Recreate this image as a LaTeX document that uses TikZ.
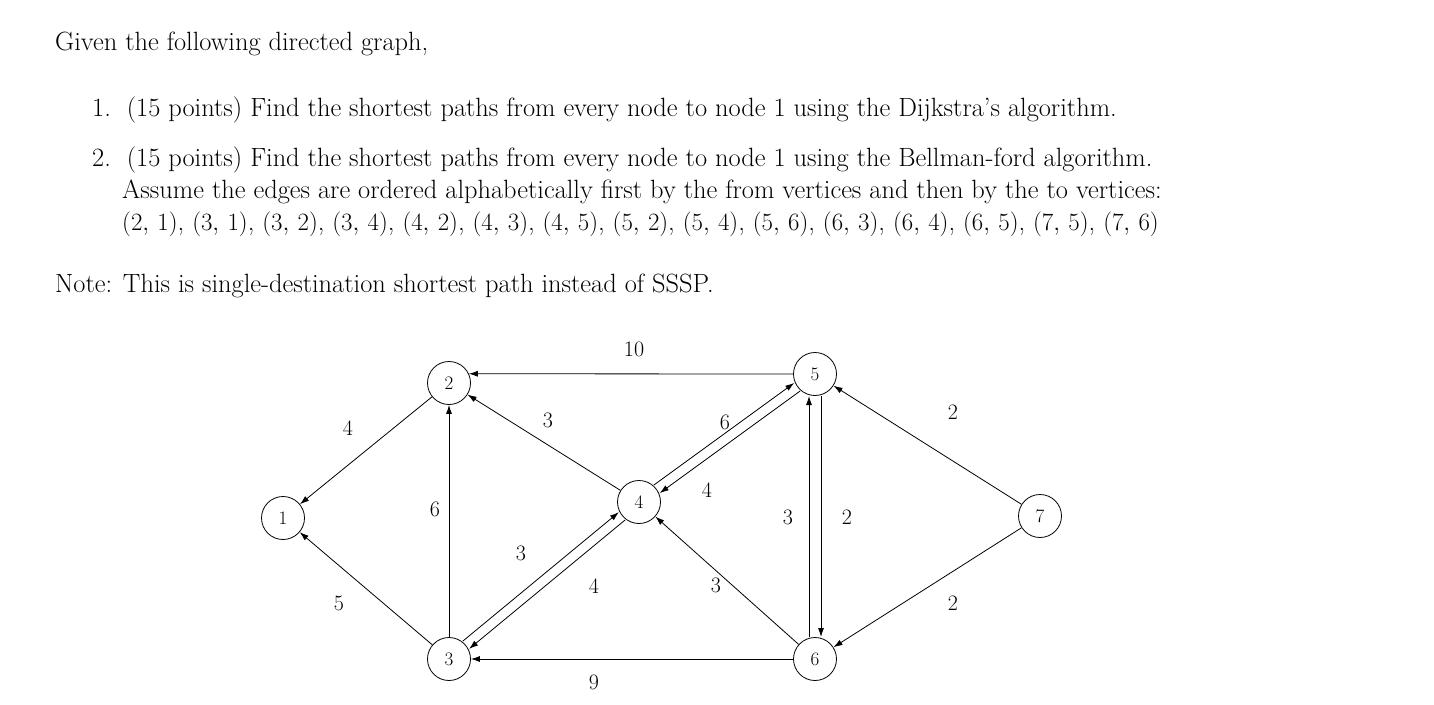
\documentclass[tikz,border=0pt]{standalone}
\usetikzlibrary{arrows.meta,calc}
\begin{document}
\begin{tikzpicture}[x=1pt,y=-1pt,
  vtx/.style={circle,draw,line width=0.8pt,minimum size=43pt,inner sep=0pt,font=\fontsize{19}{19}\selectfont},
  edge/.style={line width=0.8pt,-{Latex[length=9pt,width=6pt]}},
  wt/.style={font=\fontsize{22}{22}\selectfont},
  txt/.style={anchor=base west,inner sep=0pt,font=\fontsize{26.4}{30}\selectfont}]
\useasboundingbox (0,0) rectangle (1434,704);
\node[txt] (t0) at (55,50) {Given the following directed graph,};
\node[txt] (t1) at (92,116) {1.\ \ (15 points) Find the shortest paths from every node to node 1 using the Dijkstra's algorithm.};
\node[txt] (t2) at (92,166) {2.\ \ (15 points) Find the shortest paths from every node to node 1 using the Bellman-ford algorithm.};
\node[txt] (t3) at (122,198) {Assume the edges are ordered alphabetically first by the from vertices and then by the to vertices:};
\node[txt] (t4) at (122,230) {$(2,\,1)$, $(3,\,1)$, $(3,\,2)$, $(3,\,4)$, $(4,\,2)$, $(4,\,3)$, $(4,\,5)$, $(5,\,2)$, $(5,\,4)$, $(5,\,6)$, $(6,\,3)$, $(6,\,4)$, $(6,\,5)$, $(7,\,5)$, $(7,\,6)$};
\node[txt] (t5) at (55,292) {Note: This is single-destination shortest path instead of SSSP.};

\node[vtx] (1) at (283,518) {1};
\node[vtx] (2) at (449,383) {2};
\node[vtx] (3) at (449,659) {3};
\node[vtx] (4) at (639,502) {4};
\node[vtx] (5) at (815,374) {5};
\node[vtx] (6) at (815,659) {6};
\node[vtx] (7) at (1040,516) {7};

\draw[edge] (2) -- (1);
\draw[edge] (3) -- (1);
\draw[edge] (3) -- (2);
\draw[edge] (4) -- (2);
\draw[edge] (5.west) -- (2.25);
\draw[edge] (6) -- (3);
\draw[edge] (6) -- (4);
\draw[edge] (7) -- (5);
\draw[edge] (7) -- (6);
% parallel pairs
\draw[edge] ($(3)!22pt!(4)!5pt!90:(4)$) -- ($(4)!22pt!(3)!-5pt!90:(3)$);
\draw[edge] ($(4)!22pt!(3)!5pt!90:(3)$) -- ($(3)!22pt!(4)!-5pt!90:(4)$);
\draw[edge] ($(4)!22pt!(5)!5pt!90:(5)$) -- ($(5)!22pt!(4)!-5pt!90:(4)$);
\draw[edge] ($(5)!22pt!(4)!5pt!90:(4)$) -- ($(4)!22pt!(5)!-5pt!90:(5)$);
\draw[edge] ($(6)!22pt!(5)!6pt!90:(5)$) -- ($(5)!22pt!(6)!-6pt!90:(6)$);
\draw[edge] ($(5)!22pt!(6)!6pt!90:(6)$) -- ($(6)!22pt!(5)!-6pt!90:(5)$);

\node[wt] (w21) at (348,428) {4};
\node[wt] (w31) at (339,603) {5};
\node[wt] (w32) at (435,509) {6};
\node[wt] (w42) at (548,420) {3};
\node[wt] (w52) at (634,349) {10};
\node[wt] (w63) at (594,682) {9};
\node[wt] (w43) at (521,553) {3};
\node[wt] (w34) at (594,586) {4};
\node[wt] (w54) at (725,422) {6};
\node[wt] (w45) at (707,490) {4};
\node[wt] (w64) at (716,585) {3};
\node[wt] (w65) at (788,517) {3};
\node[wt] (w56) at (847,517) {2};
\node[wt] (w75) at (953,412) {2};
\node[wt] (w76) at (953,603) {2};
\end{tikzpicture}
\end{document}
